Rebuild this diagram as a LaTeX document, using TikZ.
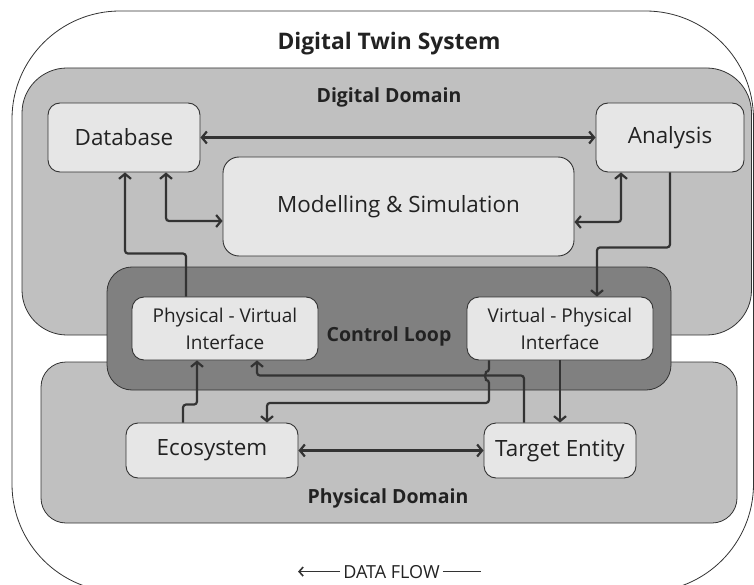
\documentclass[tikz,border=0pt]{standalone}
\usepackage{fontspec}
\setmainfont{Open Sans}
\usetikzlibrary{arrows.meta,calc}
\definecolor{edgec}{HTML}{333333}
\definecolor{boxfill}{HTML}{E6E6E6}
\definecolor{domfill}{HTML}{C0C0C0}
\definecolor{loopfill}{HTML}{808080}
\definecolor{txt}{HTML}{222222}
\begin{document}
\begin{tikzpicture}[x=1pt,y=-1pt,
  box/.style={draw=edgec, line width=0.9pt, fill=boxfill, rounded corners=12pt, text=txt, align=center, inner sep=0pt, font=\fontsize{22.4}{27}\selectfont},
  ibox/.style={box, font=\fontsize{19}{27}\selectfont},
  region/.style={draw=edgec, line width=0.8pt},
  lbl/.style={text=txt, anchor=base, inner sep=0pt, font=\bfseries\fontsize{19.5}{23}\selectfont},
  flow/.style={draw=edgec, line width=2.2pt, rounded corners=3pt, -{Straight Barb[length=5pt,width=12pt]}},
  bflow/.style={draw=edgec, line width=2.2pt, rounded corners=3pt, {Straight Barb[length=5pt,width=12pt]}-{Straight Barb[length=5pt,width=12pt]}}
]
\useasboundingbox (0,0) rectangle (754,585);
% regions
\draw[region, fill=white, rounded corners=108pt] (12,11) rectangle (753.5,592);
\draw[region, fill=domfill, rounded corners=45pt] (22,68) rectangle (751.5,335);
\draw[region, fill=domfill, rounded corners=25pt] (41,362) rectangle (737,523);
\draw[region, fill=loopfill, rounded corners=25pt] (107,267) rectangle (671,390);
% labels
\node[lbl, font=\bfseries\fontsize{22.8}{27}\selectfont] (title) at (389,50) {Digital Twin System};
\node[lbl] (dd) at (389,103) {Digital Domain};
\node[lbl] (cl) at (389,341) {Control Loop};
\node[lbl] (pd) at (388,503) {Physical Domain};
% nodes
\node[box, minimum width=152pt, minimum height=69pt] (db) at (124,137.5) {Database};
\node[box, minimum width=148pt, minimum height=69pt] (an) at (670,137.5) {Analysis};
\node[box, minimum width=351pt, minimum height=99pt, rounded corners=16pt] (ms) at (398.5,206.5) {Modelling \& Simulation};
\node[ibox, minimum width=186pt, minimum height=63pt] (pvi) at (225,328.5) {Physical - Virtual\\Interface};
\node[ibox, minimum width=186pt, minimum height=63pt] (vpi) at (560,328.5) {Virtual - Physical\\Interface};
\node[box, minimum width=172pt, minimum height=55pt] (eco) at (212,450.5) {Ecosystem};
\node[box, minimum width=152pt, minimum height=55pt] (te) at (560,450.5) {Target Entity};
% connectors
\draw[bflow] (db.east) -- (an.west);
\draw[bflow] ([xshift=42pt]db.south) |- ([yshift=-14.5pt]ms.west);
\draw[flow] ([xshift=-39pt]pvi.north) -- ++(0,-43) -| ([xshift=1pt]db.south);
\draw[bflow] ([yshift=-15.5pt]ms.east) -| ([xshift=-49pt]an.south);
\draw[flow] (an.south) -- ++(0,75) -| ([xshift=37pt]vpi.north);
\draw[flow] (vpi.south) -- (te.north);
\draw[flow] ([xshift=-29pt]eco.north) -- ++(0,-18) -| ([xshift=-28pt]pvi.south);
\draw[bflow] (eco.east) -- (te.west);
\draw[flow] ([xshift=-36pt]te.north) -- ++(0,-47) -| ([xshift=32pt]pvi.south);
\draw[flow] ([xshift=-71pt]vpi.south) -- ++(0,11.5) arc[start angle=270,end angle=90,radius=4] -- ++(0,23) -| ([xshift=55pt]eco.north);
% data flow legend
\node[text=txt, anchor=base, inner sep=3pt, font=\fontsize{18}{22}\selectfont] (df) at (391.5,578) {DATA FLOW};
\draw[draw=edgec, line width=1.6pt, -{Straight Barb[length=4pt,width=9pt]}] (df.west) -- ++(-42,0);
\draw[draw=edgec, line width=1.6pt] (df.east) -- ++(38,0);
\end{tikzpicture}
\end{document}
